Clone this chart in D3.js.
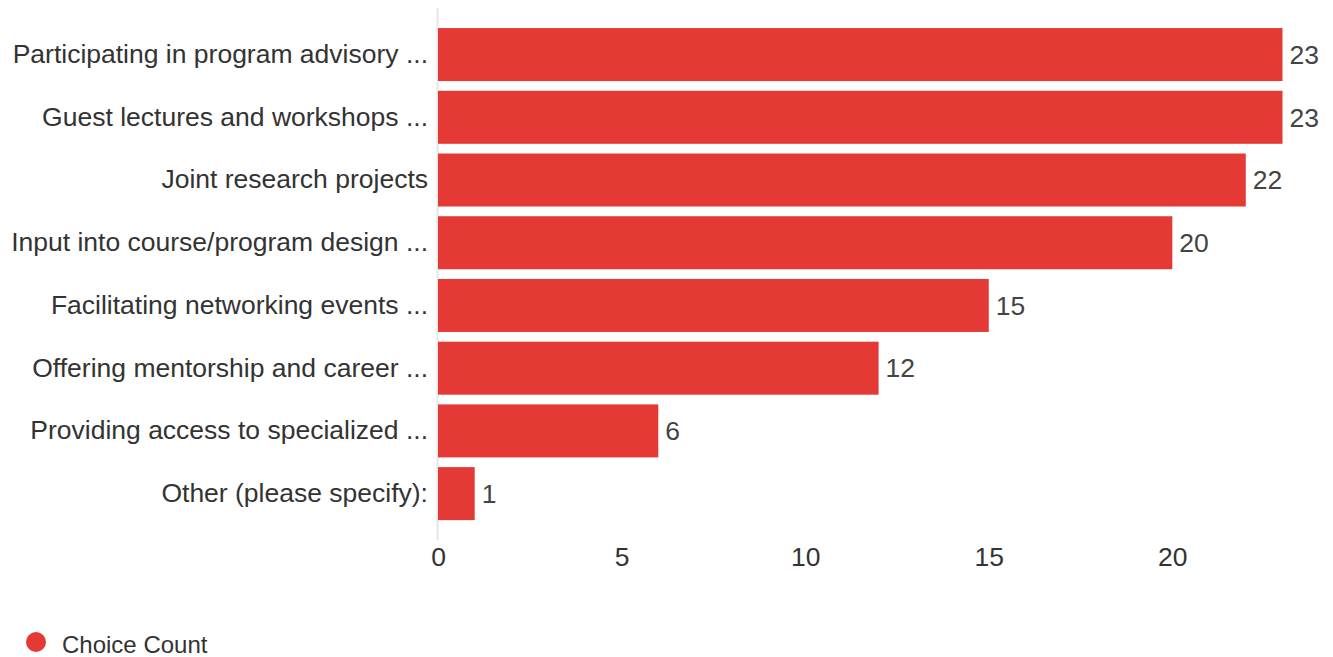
<!DOCTYPE html>
<html>
<head>
<meta charset="utf-8">
<script src="https://cdn.jsdelivr.net/npm/d3@7/dist/d3.min.js"></script>
<style>
  html, body { margin: 0; padding: 0; background: #fff; }
  svg { display: block; font-family: "Liberation Sans", Arial, sans-serif; }
</style>
</head>
<body>
<svg id="chart" width="1333" height="657"></svg>
<script>
const categories = [
  "Participating in program advisory ...",
  "Guest lectures and workshops ...",
  "Joint research projects",
  "Input into course/program design ...",
  "Facilitating networking events ...",
  "Offering mentorship and career ...",
  "Providing access to specialized ...",
  "Other (please specify):"
];
const counts = [23, 23, 22, 20, 15, 12, 6, 1];
const xTicks = [0, 5, 10, 15, 20];
const seriesName = "Choice Count";

const barColor = "#e53935";
const fontSize = 26.5;
const svg = d3.select("#chart");

const left = 438;
const x = d3.scaleLinear().domain([0, 23]).range([left, 1282.5]);
const y = d3.scaleBand()
  .domain(categories)
  .range([23.2, 525])
  .paddingInner(0.155)
  .paddingOuter(0.0775);

// baseline
svg.append("line")
  .attr("x1", left - 0.5).attr("x2", left - 0.5)
  .attr("y1", 8).attr("y2", 540)
  .attr("stroke", "#e6e6e6").attr("stroke-width", 2);

// bars
svg.append("g").selectAll("rect")
  .data(counts)
  .join("rect")
  .attr("x", x(0))
  .attr("y", (d, i) => y(categories[i]))
  .attr("width", d => x(d) - x(0))
  .attr("height", y.bandwidth())
  .attr("fill", barColor);

// value labels
svg.append("g").selectAll("text")
  .data(counts)
  .join("text")
  .attr("x", d => x(d) + 7)
  .attr("y", (d, i) => y(categories[i]) + y.bandwidth() / 2)
  .attr("dy", "0.35em")
  .attr("font-size", fontSize)
  .attr("fill", "#444")
  .text(d => d);

// category axis
const yAxis = d3.axisLeft(y).tickSize(0).tickPadding(10);
const gy = svg.append("g").attr("transform", `translate(${left},0)`).call(yAxis);
gy.select(".domain").remove();
gy.selectAll("text")
  .attr("font-size", fontSize)
  .attr("fill", "#333")
  .attr("font-family", "Liberation Sans, Arial, sans-serif");

// value axis
const xAxis = d3.axisBottom(x).tickValues(xTicks).tickSize(0).tickPadding(0);
const gx = svg.append("g").attr("transform", "translate(0,547)").call(xAxis);
gx.select(".domain").remove();
gx.selectAll("text")
  .attr("font-size", fontSize)
  .attr("fill", "#333")
  .attr("dy", "0.71em")
  .attr("font-family", "Liberation Sans, Arial, sans-serif");

// legend
const legend = svg.append("g").attr("transform", "translate(36,642)");
legend.append("circle").attr("r", 10).attr("fill", barColor);
legend.append("text")
  .attr("x", 26).attr("y", 2.3).attr("dy", "0.35em")
  .attr("font-size", 24).attr("fill", "#333")
  .text(seriesName);
</script>
</body>
</html>
